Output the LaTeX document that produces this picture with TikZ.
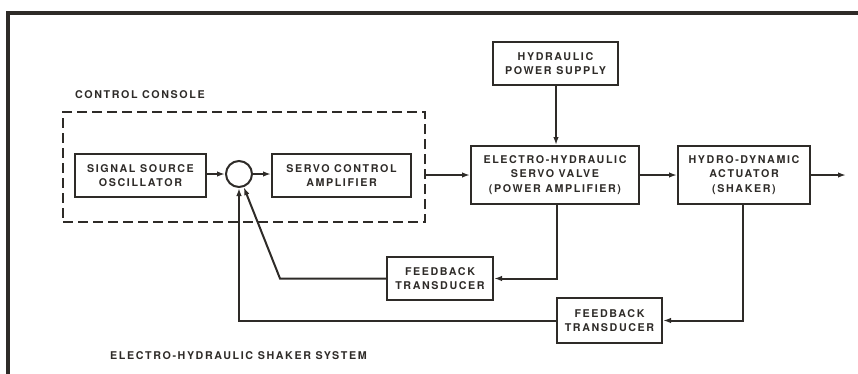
\documentclass[tikz,border=0pt]{standalone}
\usepackage{fontspec}
\setmainfont{TeX Gyre Heros}[LetterSpace=15]
\usetikzlibrary{arrows.meta}
\definecolor{ink}{HTML}{2E2B28}
\tikzset{
  blk/.style={draw=ink, line width=2pt, align=center, inner sep=0pt, font=\fontsize{10.7}{14.2}\selectfont\bfseries, text=ink},
  lbl/.style={font=\fontsize{10.7}{14}\selectfont\bfseries, text=ink, inner sep=0pt},
  con/.style={draw=ink, line width=2pt, -{Latex[length=8pt,width=5.5pt]}},
  consolebox/.style={draw=ink, line width=2pt, dash pattern=on 10pt off 5pt}
}
\begin{document}
\begin{tikzpicture}[x=1pt,y=-1pt]
\useasboundingbox (0,0) rectangle (858,373);
% frame
\draw[ink, line width=3.8pt] (8,380) -- (8,13) -- (865,13);
% nodes
\node[blk, minimum width=131pt, minimum height=43pt] (sig) at (140.5,175.5) {SIGNAL SOURCE\\OSCILLATOR};
\node[draw=ink, line width=2pt, circle, minimum size=26pt, inner sep=0pt] (circ) at (239,174) {};
\node[blk, minimum width=139pt, minimum height=43pt] (servo) at (341.5,175.5) {SERVO CONTROL\\AMPLIFIER};
\node[blk, minimum width=125pt, minimum height=43pt] (hps) at (555.5,63.5) {HYDRAULIC\\POWER SUPPLY};
\node[blk, minimum width=168pt, minimum height=58pt] (eh) at (555,175) {ELECTRO-HYDRAULIC\\SERVO VALVE\\(POWER AMPLIFIER)};
\node[blk, minimum width=132pt, minimum height=58pt] (hd) at (744,175) {HYDRO-DYNAMIC\\ACTUATOR\\(SHAKER)};
\node[blk, minimum width=106pt, minimum height=43pt] (ftone) at (440,278.5) {FEEDBACK\\TRANSDUCER};
\node[blk, minimum width=105pt, minimum height=45pt] (fttwo) at (609.5,320.5) {FEEDBACK\\TRANSDUCER};
% console
\node[consolebox, minimum width=362pt, minimum height=110pt, inner sep=0pt] (console) at (244,167) {};
\node[lbl, anchor=west] (cclabel) at (75,95) {CONTROL CONSOLE};
\node[lbl, anchor=west] (title) at (110,356) {ELECTRO-HYDRAULIC SHAKER SYSTEM};
% coordinates
\coordinate (consout) at (console.east |- eh.west);
\coordinate (outend) at (846,175);
\coordinate (bendone) at (280,278.5);
% connectors
\draw[con] (sig.east |- circ.west) -- (circ.west);
\draw[con] (circ.east) -- (servo.west |- circ.east);
\draw[con] (consout) -- (eh.west);
\draw[con] (eh.east) -- (hd.west);
\draw[con] (hd.east) -- (outend);
\draw[con] (hps.south -| 556,0) -- (eh.north -| 556,0);
\draw[con] (eh.south -| 557,0) |- (ftone.east);
\draw[con] (hd.south -| 743,0) |- (fttwo.east);
\draw[con] (ftone.west) -- (bendone) -- (circ.-70);
\draw[con] (fttwo.west) -| (circ.south);
\end{tikzpicture}
\end{document}
